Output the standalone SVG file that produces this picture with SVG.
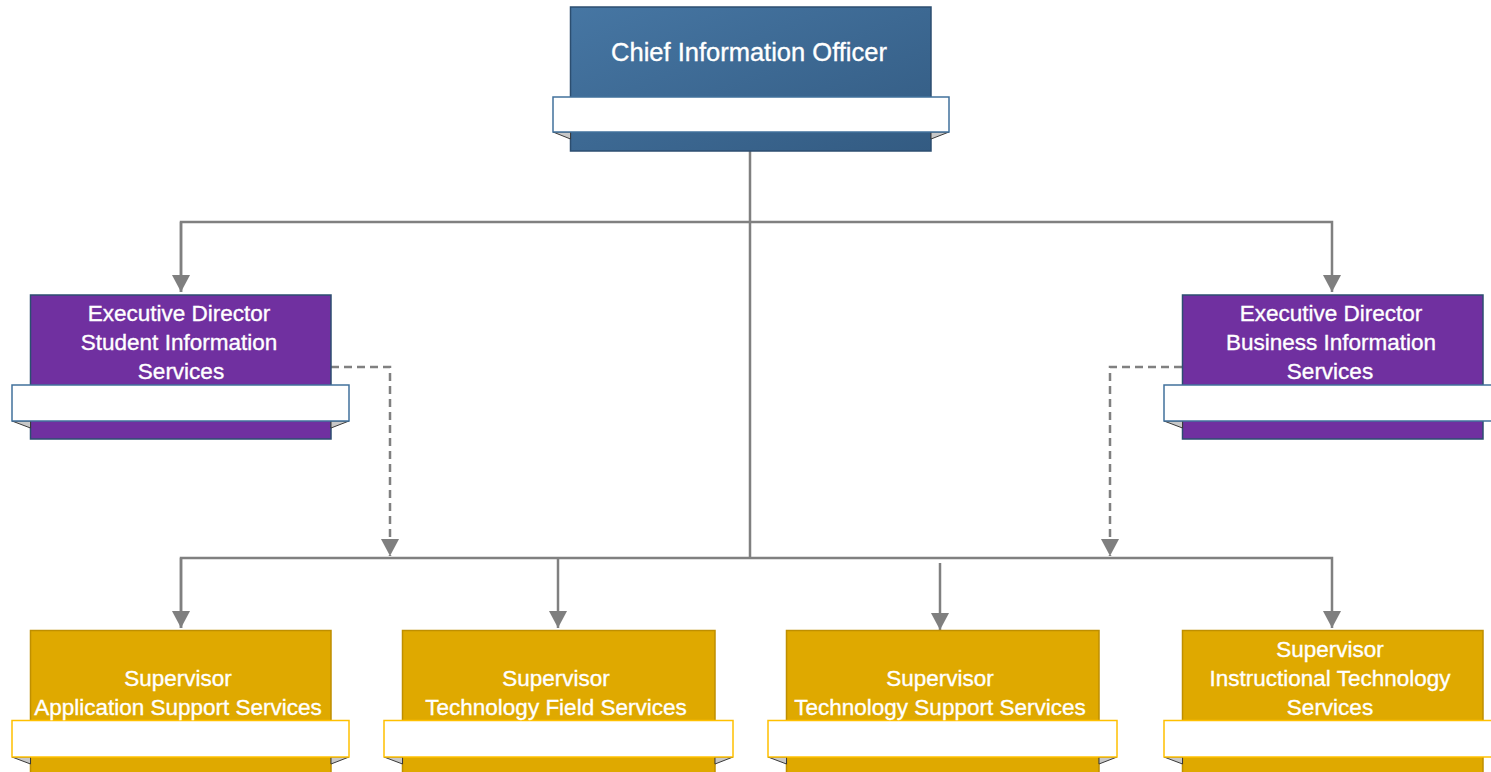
<svg xmlns="http://www.w3.org/2000/svg" width="1491" height="772" viewBox="0 0 1491 772">
<defs>
<linearGradient id="gBlue" x1="0" y1="0" x2="1" y2="1">
<stop offset="0" stop-color="#4676a3"/>
<stop offset="1" stop-color="#335b82"/>
</linearGradient>
<marker id="arr" markerUnits="userSpaceOnUse" markerWidth="20" markerHeight="20" viewBox="0 0 20 20" refX="18" refY="10" orient="auto">
<path d="M1,1 L18,10 L1,19 Z" fill="#7f7f7f"/>
</marker>
<style>
.conn{fill:none;stroke:#808080;stroke-width:2.5}
.dash{fill:none;stroke:#808080;stroke-width:2.5;stroke-dasharray:8,5}
.blue{fill:url(#gBlue);stroke:#2c4e70;stroke-width:1.5}
.purple{fill:#7030a0;stroke:#2c4e70;stroke-width:1.5}
.gold{fill:#dfa900;stroke:#bf8f00;stroke-width:1.5}
.banB{fill:#ffffff;stroke:#41719c;stroke-width:1.5}
.banG{fill:#ffffff;stroke:#ffc000;stroke-width:1.5}
.fold{fill:#c8c8c8;stroke:#3a3a3a;stroke-width:1}
.t{font-family:"Liberation Sans",Arial,sans-serif;fill:#ffffff;stroke:#ffffff;stroke-width:0.35;text-anchor:middle;dominant-baseline:central}
</style>
</defs>
<g id="connectors">
<path class="conn" d="M750,151 V558"/>
<path class="conn" d="M181,292 V222 H1332 V292" marker-end="url(#arr)"/>
<path class="conn" d="M181,222 V292" marker-end="url(#arr)"/>
<path class="conn" d="M181,628 V558 H1332 V628" marker-end="url(#arr)"/>
<path class="conn" d="M181,558 V628" marker-end="url(#arr)"/>
<path class="conn" d="M558,558 V628" marker-end="url(#arr)"/>
<path class="conn" d="M940,563 V630" marker-end="url(#arr)"/>
<path class="dash" d="M331,367 H390 V556" marker-end="url(#arr)"/>
<path class="dash" d="M1182,367 H1110 V556" marker-end="url(#arr)"/>
</g>
<g id="cio">
<rect class="blue" x="570.5" y="7" width="360.5" height="144"/>
<polygon class="fold" points="553,132 570.5,132 570.5,139"/>
<polygon class="fold" points="949,132 931,132 931,139"/>
<rect class="banB" x="553" y="97" width="396" height="35"/>
<text class="t" x="749" y="52" font-size="25.5">Chief Information Officer</text>
</g>
<g id="ed-student">
<rect class="purple" x="30.5" y="295" width="300.5" height="144"/>
<polygon class="fold" points="12,421 30.5,421 30.5,428"/>
<polygon class="fold" points="349,421 331,421 331,428"/>
<rect class="banB" x="12" y="385" width="337" height="36"/>
<text class="t" x="179" y="313" font-size="22.5">Executive Director</text>
<text class="t" x="179" y="342" font-size="22.5">Student Information</text>
<text class="t" x="181" y="371" font-size="22.5">Services</text>
</g>
<g id="ed-business">
<rect class="purple" x="1182.5" y="295" width="300.5" height="144"/>
<polygon class="fold" points="1164,421 1182.5,421 1182.5,428"/>
<rect class="banB" x="1164" y="385" width="337" height="36"/>
<text class="t" x="1331" y="313" font-size="22.5">Executive Director</text>
<text class="t" x="1331" y="342" font-size="22.5">Business Information</text>
<text class="t" x="1330" y="371" font-size="22.5">Services</text>
</g>
<g id="sup-app">
<rect class="gold" x="30.5" y="630.5" width="300.5" height="150"/>
<polygon class="fold" points="12,757 30.5,757 30.5,764"/>
<polygon class="fold" points="349,757 331,757 331,764"/>
<rect class="banG" x="12" y="720.5" width="337" height="36.5"/>
<text class="t" x="178" y="678" font-size="22.5">Supervisor</text>
<text class="t" x="178" y="707" font-size="22.5">Application Support Services</text>
</g>
<g id="sup-field">
<rect class="gold" x="402.5" y="630.5" width="312.5" height="150"/>
<polygon class="fold" points="384,757 402.5,757 402.5,764"/>
<polygon class="fold" points="733,757 715,757 715,764"/>
<rect class="banG" x="384" y="720.5" width="349" height="36.5"/>
<text class="t" x="556" y="678" font-size="22.5">Supervisor</text>
<text class="t" x="556" y="707" font-size="22.5">Technology Field Services</text>
</g>
<g id="sup-support">
<rect class="gold" x="786.5" y="630.5" width="312.5" height="150"/>
<polygon class="fold" points="768,757 786.5,757 786.5,764"/>
<polygon class="fold" points="1117,757 1099,757 1099,764"/>
<rect class="banG" x="768" y="720.5" width="349" height="36.5"/>
<text class="t" x="940" y="678" font-size="22.5">Supervisor</text>
<text class="t" x="940" y="707" font-size="22.5">Technology Support Services</text>
</g>
<g id="sup-instr">
<rect class="gold" x="1182.5" y="630.5" width="300.5" height="150"/>
<polygon class="fold" points="1164,757 1182.5,757 1182.5,764"/>
<rect class="banG" x="1164" y="720.5" width="337" height="36.5"/>
<text class="t" x="1330" y="649" font-size="22.5">Supervisor</text>
<text class="t" x="1330" y="678" font-size="22.5">Instructional Technology</text>
<text class="t" x="1330" y="707" font-size="22.5">Services</text>
</g>
</svg>
